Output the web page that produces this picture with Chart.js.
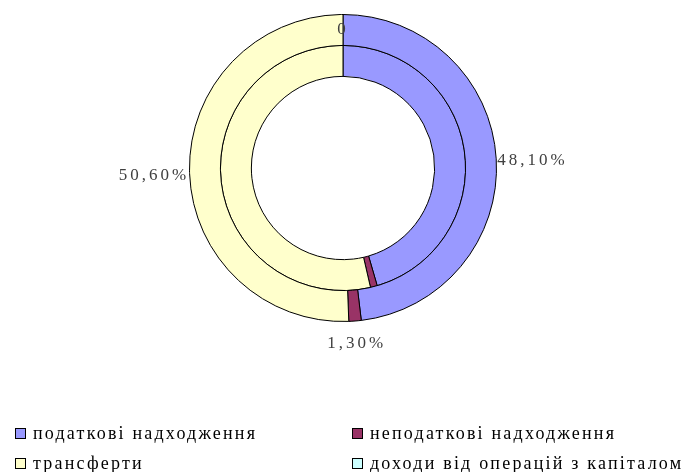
<!DOCTYPE html>
<html>
<head>
<meta charset="utf-8">
<script src="https://cdn.jsdelivr.net/npm/chart.js@4"></script>
<style>
  html, body { margin: 0; padding: 0; background: #fff; }
  #wrap { width: 683px; height: 472px; }
</style>
</head>
<body>
<div id="wrap"><canvas id="revenueChart" width="683" height="472"></canvas></div>
<script>
// Categories and shares (%)
const categories = ["податкові надходження", "неподаткові надходження", "трансферти", "доходи від операцій з капіталом"];
const outerValues = [48.1, 1.3, 50.6, 0];
const innerValues = [45.5, 0.9, 53.6, 0];
const sliceColors = ["#9999FF", "#993366", "#FFFFCC", "#CCFFFF"];

const serif = "'Liberation Serif', 'Times New Roman', serif";

// Percent labels around the outer ring
const sliceLabels = {
  id: "sliceLabels",
  afterDatasetsDraw(chart) {
    const ctx = chart.ctx;
    const meta = chart.getDatasetMeta(0);
    ctx.save();
    ctx.font = "17px " + serif;
    ctx.letterSpacing = "3px";
    ctx.fillStyle = "#404040";
    ctx.textAlign = "center";
    ctx.textBaseline = "middle";
    meta.data.forEach((arc, i) => {
      const v = outerValues[i];
      const p = arc.getProps(["x", "y", "startAngle", "endAngle", "innerRadius", "outerRadius"], true);
      const mid = (p.startAngle + p.endAngle) / 2;
      const dx = Math.cos(mid), dy = Math.sin(mid);
      let text, r;
      if (v === 0) {
        text = "0";
        r = (p.innerRadius + p.outerRadius) / 2;
      } else {
        text = v.toFixed(2).replace(".", ",") + "%";
        const w = ctx.measureText(text).width;
        r = p.outerRadius + 12 * Math.abs(dy) + Math.abs(dx) * w / 2 + Math.abs(dy) * 8;
      }
      ctx.fillText(text, p.x + dx * r, p.y + dy * r + 4 * Math.abs(dx));
    });
    ctx.restore();
  }
};

// Two-column legend at the bottom
const bottomLegend = {
  id: "bottomLegend",
  afterDraw(chart) {
    const ctx = chart.ctx;
    const cols = [15, 352];
    const rows = [433, 463];
    ctx.save();
    ctx.font = "18px " + serif;
    ctx.letterSpacing = "2.2px";
    ctx.textBaseline = "middle";
    categories.forEach((name, i) => {
      const x = cols[i % 2];
      const y = rows[Math.floor(i / 2)];
      ctx.fillStyle = sliceColors[i];
      ctx.fillRect(x, y - 5, 10, 10);
      ctx.strokeStyle = "#000";
      ctx.lineWidth = 1;
      ctx.strokeRect(x + 0.5, y - 4.5, 10, 10);
      ctx.fillStyle = "#000";
      ctx.fillText(name, x + 18, y + 1);
    });
    ctx.restore();
  }
};

const ctx = document.getElementById("revenueChart").getContext("2d");
new Chart(ctx, {
  type: "doughnut",
  data: {
    labels: categories,
    datasets: [
      { data: outerValues, backgroundColor: sliceColors, borderColor: "#000", borderWidth: 1 },
      { data: innerValues, backgroundColor: sliceColors, borderColor: "#000", borderWidth: 1 }
    ]
  },
  options: {
    responsive: false,
    animation: false,
    cutout: "59.7%",
    layout: { padding: { top: 14, bottom: 150, left: 3, right: 0 } },
    plugins: {
      legend: { display: false },
      tooltip: { enabled: false }
    }
  },
  plugins: [sliceLabels, bottomLegend]
});
</script>
</body>
</html>
